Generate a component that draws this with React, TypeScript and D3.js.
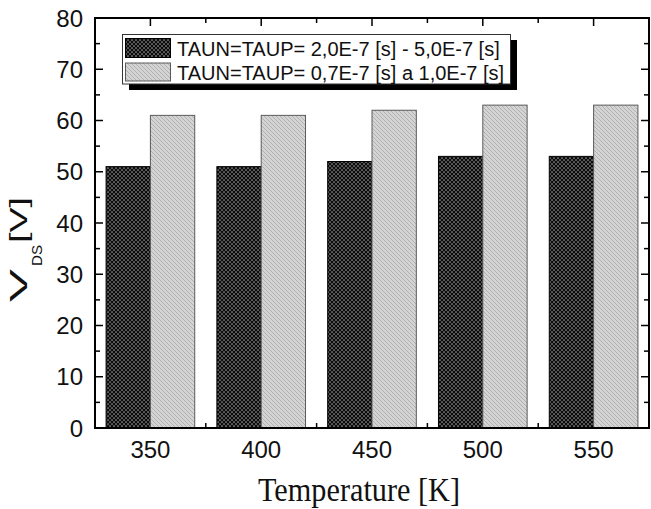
import React from "react";
import * as d3 from "d3";

// Temperatures (K) and drain-source voltages (V) for the two lifetime settings
const temperatures = [350, 400, 450, 500, 550];
const vdsLongLifetime = [51, 51, 52, 53, 53];
const vdsShortLifetime = [61, 61, 62, 63, 63];
const seriesLabels = [
  "TAUN=TAUP= 2,0E-7 [s] - 5,0E-7 [s]",
  "TAUN=TAUP= 0,7E-7 [s] a 1,0E-7 [s]",
];
const yMajorTicks = [0, 10, 20, 30, 40, 50, 60, 70, 80];
const yMinorTicks = [5, 15, 25, 35, 45, 55, 65, 75];
const xMinorTicks = [375, 425, 475, 525];

const W = 651;
const H = 509;
const plot = { left: 95, right: 649, top: 18, bottom: 428 };

const SANS = "'Liberation Sans', Arial, sans-serif";
const SERIF = "'Liberation Serif', 'Times New Roman', serif";

export default function App() {
  const x = d3.scaleLinear().domain([325, 575]).range([plot.left, plot.right]);
  const y = d3.scaleLinear().domain([0, 80]).range([plot.bottom, plot.top]);
  const barUnits = 20;
  const bw = x(325 + barUnits) - x(325);

  const majorLen = 8;
  const minorLen = 5;

  return (
    <svg
      width={W}
      height={H}
      viewBox={`0 0 ${W} ${H}`}
      style={{ position: "absolute", left: 0, top: 0, background: "#fff" }}
    >
      <defs>
        <pattern id="crossDark" width="4" height="4" patternUnits="userSpaceOnUse">
          <rect width="4" height="4" fill="#0c0c0c" />
          <circle cx="0" cy="0" r="0.85" fill="#9a9a9a" />
          <circle cx="4" cy="0" r="0.85" fill="#9a9a9a" />
          <circle cx="0" cy="4" r="0.85" fill="#9a9a9a" />
          <circle cx="4" cy="4" r="0.85" fill="#9a9a9a" />
          <circle cx="2" cy="2" r="0.85" fill="#9a9a9a" />
        </pattern>
        <pattern id="hatchLight" width="4" height="4" patternUnits="userSpaceOnUse">
          <rect width="4" height="4" fill="#d4d4d4" />
          <path d="M-1,-1 L5,5 M-1,3 L1,5 M3,-1 L5,1" stroke="#adadad" strokeWidth="0.9" />
        </pattern>
      </defs>

      {/* bottom minor ticks (drawn first, bars sit above them) */}
      {xMinorTicks.map((t) => (
        <line
          key={"bm" + t}
          x1={x(t)}
          x2={x(t)}
          y1={plot.bottom}
          y2={plot.bottom - minorLen}
          stroke="#000"
          strokeWidth={1.5}
        />
      ))}

      {/* bars */}
      {temperatures.map((t, i) => (
        <g key={"bar" + t}>
          <rect
            x={x(t - barUnits)}
            y={y(vdsLongLifetime[i])}
            width={bw}
            height={y(0) - y(vdsLongLifetime[i])}
            fill="url(#crossDark)"
            stroke="#000"
            strokeWidth={1}
          />
          <rect
            x={x(t)}
            y={y(vdsShortLifetime[i])}
            width={bw}
            height={y(0) - y(vdsShortLifetime[i])}
            fill="url(#hatchLight)"
            stroke="#5a5a5a"
            strokeWidth={1}
          />
        </g>
      ))}

      {/* left and right ticks */}
      {yMajorTicks.map((v) => (
        <g key={"ym" + v}>
          <line x1={plot.left} x2={plot.left + majorLen} y1={y(v)} y2={y(v)} stroke="#000" strokeWidth={1.5} />
          <line x1={plot.right} x2={plot.right - majorLen} y1={y(v)} y2={y(v)} stroke="#000" strokeWidth={1.5} />
          <text
            x={83}
            y={y(v) + 8.5}
            textAnchor="end"
            fontFamily={SANS}
            fontSize={24}
            fill="#111"
          >
            {v}
          </text>
        </g>
      ))}
      {yMinorTicks.map((v) => (
        <g key={"yn" + v}>
          <line x1={plot.left} x2={plot.left + minorLen} y1={y(v)} y2={y(v)} stroke="#000" strokeWidth={1.5} />
          <line x1={plot.right} x2={plot.right - minorLen} y1={y(v)} y2={y(v)} stroke="#000" strokeWidth={1.5} />
        </g>
      ))}

      {/* top ticks */}
      {temperatures.map((t) => (
        <line key={"tm" + t} x1={x(t)} x2={x(t)} y1={plot.top} y2={plot.top + majorLen} stroke="#000" strokeWidth={1.5} />
      ))}
      {xMinorTicks.map((t) => (
        <line key={"tn" + t} x1={x(t)} x2={x(t)} y1={plot.top} y2={plot.top + minorLen} stroke="#000" strokeWidth={1.5} />
      ))}

      {/* x tick labels */}
      {temperatures.map((t) => (
        <text
          key={"xl" + t}
          x={x(t)}
          y={458}
          textAnchor="middle"
          fontFamily={SANS}
          fontSize={24}
          fill="#111"
        >
          {t}
        </text>
      ))}

      {/* frame */}
      <rect
        x={plot.left}
        y={plot.top}
        width={plot.right - plot.left}
        height={plot.bottom - plot.top}
        fill="none"
        stroke="#000"
        strokeWidth={2}
      />

      {/* legend */}
      <rect x={129} y={40} width={388} height={50} fill="#000" />
      <rect x={122.5} y={34.5} width={388} height={49.5} fill="#fff" stroke="#333" strokeWidth={1} />
      <rect x={125.5} y={38.5} width={45} height={19} fill="url(#crossDark)" stroke="#000" strokeWidth={1} />
      <rect x={125.5} y={63} width={45} height={18} fill="url(#hatchLight)" stroke="#5a5a5a" strokeWidth={1} />
      <text x={177} y={56} fontFamily={SANS} fontSize={20} fill="#111">
        {seriesLabels[0]}
      </text>
      <text x={177} y={80} fontFamily={SANS} fontSize={20} fill="#111">
        {seriesLabels[1]}
      </text>

      {/* x axis title */}
      <text
        x={258}
        y={501}
        fontFamily={SERIF}
        fontSize={34}
        textLength={202}
        lengthAdjust="spacingAndGlyphs"
        fill="#111"
      >
        Temperature [K]
      </text>

      {/* y axis title: V with DS subscript, then [V] */}
      <g transform="translate(27, 302) rotate(-90) scale(1, 0.7)">
        <text x={0} y={0} fontFamily={SANS} fontSize={34} textLength={33} lengthAdjust="spacingAndGlyphs" fill="#111">
          V
        </text>
        <text x={36} y={21} fontFamily={SANS} fontSize={20} textLength={21} lengthAdjust="spacingAndGlyphs" fill="#111">
          DS
        </text>
        <text x={59} y={0} fontFamily={SANS} fontSize={34} textLength={46} lengthAdjust="spacingAndGlyphs" fill="#111">
          [V]
        </text>
      </g>
    </svg>
  );
}
